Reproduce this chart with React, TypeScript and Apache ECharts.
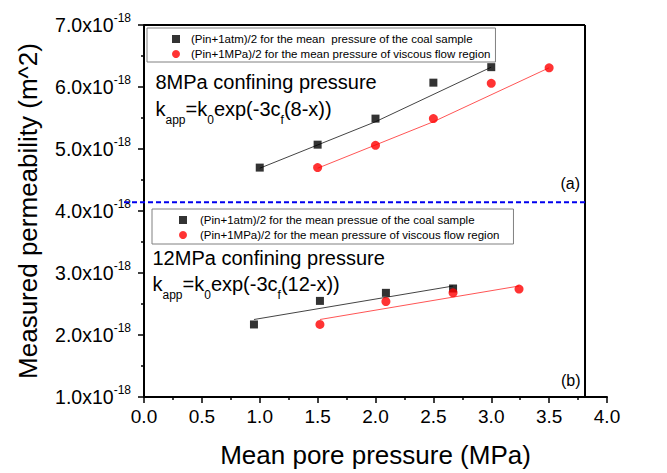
import React, { useEffect, useRef } from "react";
import * as echarts from "echarts";

const FONT = "'Liberation Sans', Arial, sans-serif";

// 8 MPa confining pressure (units of 1e-18 m^2)
const black8X = [1.0, 1.5, 2.0, 2.5, 3.0];
const black8Y = [4.7, 5.07, 5.49, 6.07, 6.32];
const red8X = [1.5, 2.0, 2.5, 3.0, 3.5];
const red8Y = [4.7, 5.06, 5.49, 6.06, 6.31];
const black8FitX = [1.0, 2.0, 3.0];
const black8FitY = [4.69, 5.44, 6.32];
const red8FitX = [1.5, 2.5, 3.5];
const red8FitY = [4.69, 5.44, 6.31];

// 12 MPa confining pressure
const black12X = [0.95, 1.52, 2.09, 2.67];
const black12Y = [2.17, 2.55, 2.68, 2.75];
const red12X = [1.52, 2.09, 2.67, 3.24];
const red12Y = [2.17, 2.54, 2.68, 2.74];
const black12FitX = [0.95, 2.67];
const black12FitY = [2.25, 2.79];
const red12FitX = [1.52, 3.24];
const red12FitY = [2.25, 2.79];

const dividerY = 4.14;
const frameRightX = 3.81;

const nameBlack8 = "(Pin+1atm)/2 for the mean  pressure of the coal sample";
const nameRed = "(Pin+1MPa)/2 for the mean pressure of viscous flow region";
const nameBlack12 = "(Pin+1atm)/2 for the mean pressue of the coal sample";

const zip = (xs: number[], ys: number[]) => xs.map((x, i) => [x, ys[i]]);

export default function App() {
  const ref = useRef<HTMLDivElement>(null);
  useEffect(() => {
    if (!ref.current) return;
    const chart = echarts.init(ref.current, undefined, { renderer: "svg" });
    const scatterBlack = (name: string, data: number[][]) => ({
      type: "scatter",
      name,
      data,
      symbol: "rect",
      symbolSize: 8,
      itemStyle: { color: "#000" },
      z: 5,
    });
    const scatterRed = (data: number[][]) => ({
      type: "scatter",
      name: nameRed,
      data,
      symbol: "circle",
      symbolSize: 9,
      itemStyle: { color: "#ff0000" },
      z: 5,
    });
    const fit = (data: number[][], color: string) => ({
      type: "line",
      data,
      showSymbol: false,
      symbol: "none",
      silent: true,
      lineStyle: { color, width: 1 },
      z: 3,
    });
    const legendBase = {
      orient: "vertical",
      itemWidth: 8,
      itemHeight: 8,
      itemGap: 1,
      borderColor: "#808080",
      borderWidth: 1,
      selectedMode: false,
      textStyle: { fontSize: 11.5, fontFamily: FONT, color: "#000", lineHeight: 14 },
    };
    chart.setOption({
      animation: false,
      backgroundColor: "#fff",
      textStyle: { fontFamily: FONT },
      grid: { left: 144, right: 60, top: 25, bottom: 73 },
      legend: [
        {
          ...legendBase,
          left: 147,
          top: 28,
          padding: [4, 5, 1, 25],
          textStyle: { ...legendBase.textStyle, padding: [0, 0, 0, 6] },
          data: [
            { name: nameBlack8, icon: "rect" },
            { name: nameRed, icon: "circle" },
          ],
        },
        {
          ...legendBase,
          left: 152,
          top: 209,
          padding: [4, 14, 2, 27],
          textStyle: { ...legendBase.textStyle, padding: [0, 0, 0, 8] },
          data: [
            { name: nameBlack12, icon: "rect" },
            { name: nameRed, icon: "circle" },
          ],
        },
      ],
      xAxis: {
        type: "value",
        min: 0,
        max: 4,
        interval: 0.5,
        name: "Mean pore pressure (MPa)",
        nameLocation: "middle",
        nameGap: 45,
        nameTextStyle: { fontSize: 26, color: "#000", fontFamily: FONT },
        axisLine: { lineStyle: { color: "#000", width: 2 } },
        axisTick: { length: 6, lineStyle: { color: "#000", width: 1.5 } },
        minorTick: { show: true, splitNumber: 2, length: 3, lineStyle: { color: "#000", width: 1.5 } },
        splitLine: { show: false },
        axisLabel: {
          fontSize: 19,
          color: "#000",
          margin: 10,
          fontFamily: FONT,
          formatter: (v: number) => v.toFixed(1),
        },
      },
      yAxis: {
        type: "value",
        min: 1,
        max: 7,
        interval: 1,
        name: "Measured permeability (m^2)",
        nameLocation: "middle",
        nameGap: 103,
        nameTextStyle: { fontSize: 26, color: "#000", fontFamily: FONT },
        axisLine: { show: true, lineStyle: { color: "#000", width: 2 } },
        axisTick: { show: true, length: 6, lineStyle: { color: "#000", width: 1.5 } },
        minorTick: { show: true, splitNumber: 2, length: 3, lineStyle: { color: "#000", width: 1.5 } },
        splitLine: { show: false },
        axisLabel: {
          margin: 13,
          formatter: (v: number) => `{a|${v.toFixed(1)}x10}{b|-18}`,
          rich: {
            a: { fontSize: 19.5, color: "#000", fontFamily: FONT, lineHeight: 26 },
            b: { fontSize: 12, color: "#000", fontFamily: FONT, lineHeight: 10, verticalAlign: "top" },
          },
        },
      },
      series: [
        fit(zip(black8FitX, black8FitY), "#444"),
        fit(zip(red8FitX, red8FitY), "#ff5555"),
        fit(zip(black12FitX, black12FitY), "#444"),
        fit(zip(red12FitX, red12FitY), "#ff5555"),
        scatterBlack(nameBlack8, zip(black8X, black8Y)),
        scatterRed(zip(red8X, red8Y)),
        scatterBlack(nameBlack12, zip(black12X, black12Y)),
        scatterRed(zip(red12X, red12Y)),
      ],
    });

    const px = (x: number) => chart.convertToPixel({ xAxisIndex: 0 }, x) as number;
    const py = (y: number) => chart.convertToPixel({ yAxisIndex: 0 }, y) as number;
    const left = px(0);
    const right = px(frameRightX);
    const top = py(7);
    const bottom = py(1);
    const dy = py(dividerY);

    const mainStyle = { fontSize: 20, fontFamily: FONT, fill: "#000" };
    const rich = {
      m: { fontSize: 20, fontFamily: FONT, color: "#000", lineHeight: 34 },
      s: { fontSize: 12, fontFamily: FONT, color: "#000", lineHeight: 14, verticalAlign: "bottom" },
    };
    const kText = (c: string) =>
      `{m|k}{s|app}{m|=k}{s|0}{m|exp(-3c}{s|f}{m|(${c}-x))}`;

    chart.setOption({
      graphic: [
        {
          type: "line",
          shape: { x1: left, y1: top, x2: right, y2: top },
          style: { stroke: "#000", lineWidth: 2 },
          z: 10,
        },
        {
          type: "line",
          shape: { x1: right, y1: top, x2: right, y2: bottom },
          style: { stroke: "#000", lineWidth: 2 },
          z: 10,
        },
        {
          type: "line",
          shape: { x1: left - 20, y1: dy, x2: right, y2: dy },
          style: { stroke: "#0000ee", lineWidth: 2, lineDash: [5, 3] },
          z: 10,
        },
        {
          type: "text",
          x: 155.5,
          y: 82,
          style: { ...mainStyle, text: "8MPa confining pressure", verticalAlign: "middle" },
          z: 10,
        },
        {
          type: "text",
          x: 155.5,
          y: 92,
          style: { text: kText("8"), rich, verticalAlign: "top" },
          z: 10,
        },
        {
          type: "text",
          x: 152.5,
          y: 258,
          style: { ...mainStyle, text: "12MPa confining pressure", verticalAlign: "middle" },
          z: 10,
        },
        {
          type: "text",
          x: 152.5,
          y: 267,
          style: { text: kText("12"), rich, verticalAlign: "top" },
          z: 10,
        },
        {
          type: "text",
          x: 580,
          y: 183,
          style: { text: "(a)", fontSize: 16, fontFamily: FONT, fill: "#000", align: "right", verticalAlign: "middle" },
          z: 10,
        },
        {
          type: "text",
          x: 561,
          y: 380,
          style: { text: "(b)", fontSize: 16, fontFamily: FONT, fill: "#000", align: "left", verticalAlign: "middle" },
          z: 10,
        },
      ],
    });

    return () => chart.dispose();
  }, []);
  return <div ref={ref} style={{ width: 667, height: 473, position: "absolute", left: 0, top: 0 }} />;
}
